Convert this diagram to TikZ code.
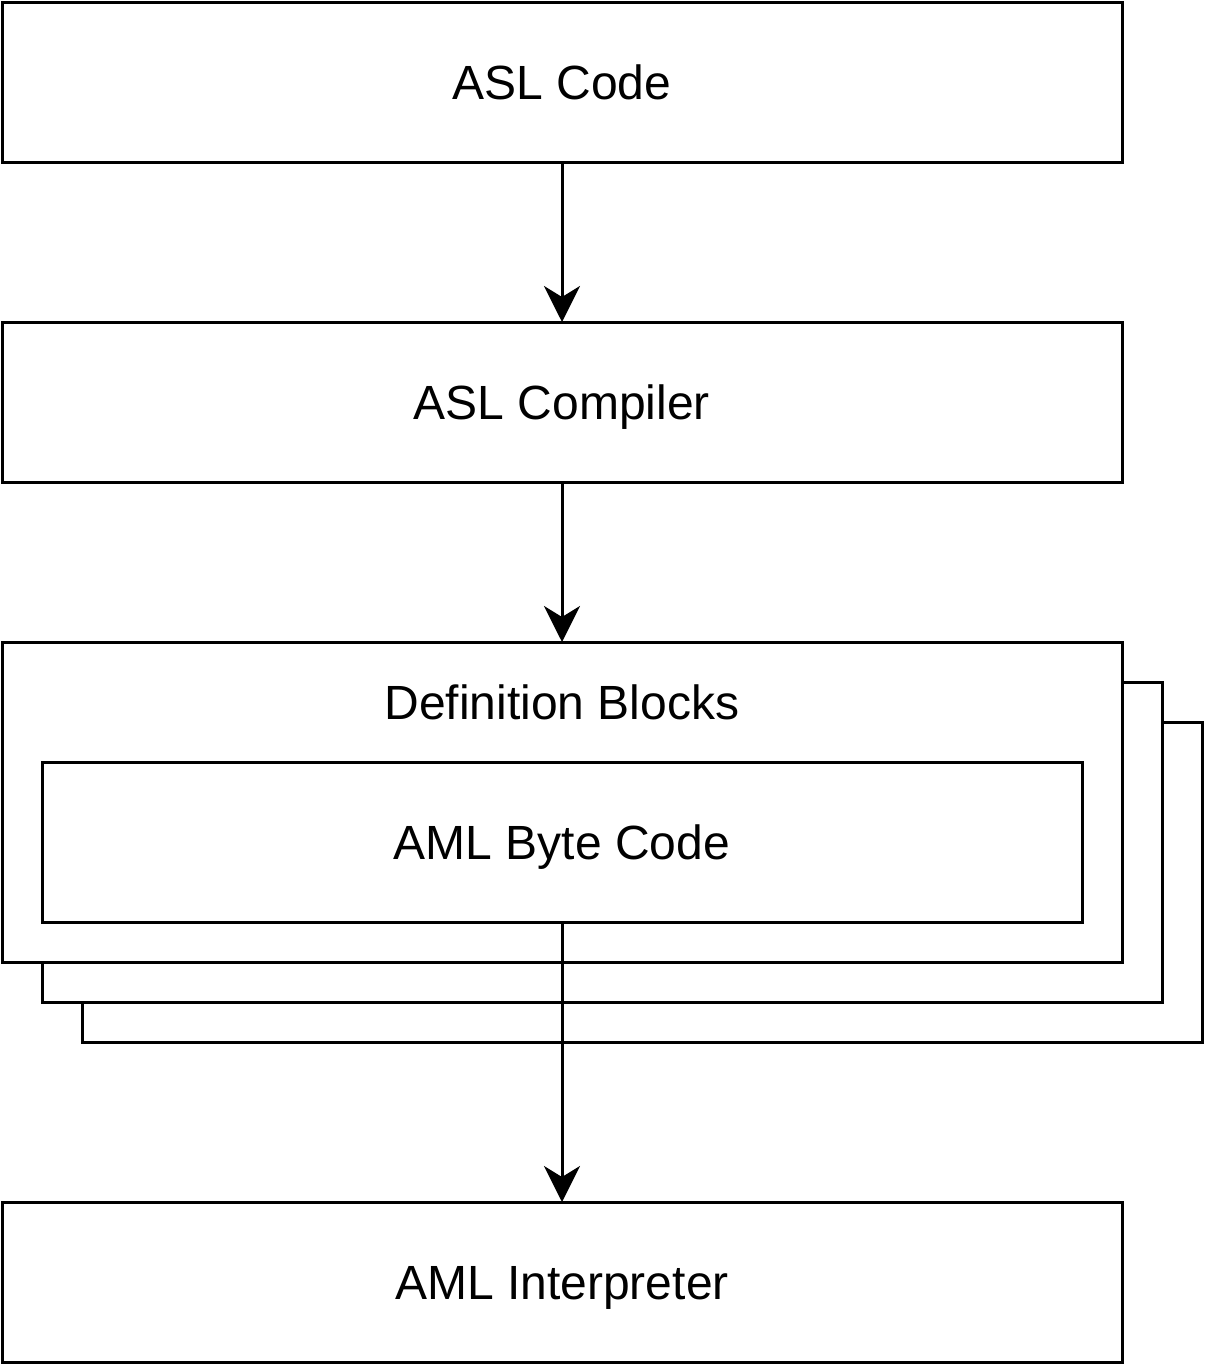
\documentclass[tikz,border=0pt]{standalone}
\usepackage{fontspec}
\setmainfont{Liberation Sans}
\usetikzlibrary{arrows.meta}
\begin{document}
\begin{tikzpicture}[x=1pt,y=-1pt,
  boxs/.style={draw=black,line width=3pt,fill=white},
  lbl/.style={font=\fontsize{48}{56}\selectfont,inner sep=0pt,anchor=base},
  conn/.style={line width=3pt,-{Stealth[length=36pt,width=36pt,inset=11pt]}}]
\useasboundingbox (0,0) rectangle (1208,1368);
% boxes
\draw[boxs] (2,2) rectangle (1122,162);
\node[lbl] (code) at (562,99.5) {ASL Code};
\coordinate (codeB) at (562,162);
\draw[boxs] (2,322) rectangle (1122,482);
\node[lbl] (comp) at (562,419.5) {ASL Compiler};
\coordinate (compT) at (562,322);
\coordinate (compB) at (562,482);
% stacked definition blocks
\draw[boxs] (82,722) rectangle (1202,1042);
\draw[boxs] (42,682) rectangle (1162,1002);
\draw[boxs] (2,642) rectangle (1122,962);
\coordinate (defT) at (562,642);
\node[lbl] (def) at (562,719.5) {Definition Blocks};
\draw[boxs] (42,762) rectangle (1082,922);
\node[lbl] (aml) at (562,859.5) {AML Byte Code};
\coordinate (amlB) at (562,922);
\draw[boxs] (2,1202) rectangle (1122,1362);
\node[lbl] (interp) at (562,1299.5) {AML Interpreter};
\coordinate (interpT) at (562,1202);
% connectors
\draw[conn] (codeB) -- (compT);
\draw[conn] (compB) -- (defT);
\draw[conn] (amlB) -- (interpT);
\end{tikzpicture}
\end{document}
